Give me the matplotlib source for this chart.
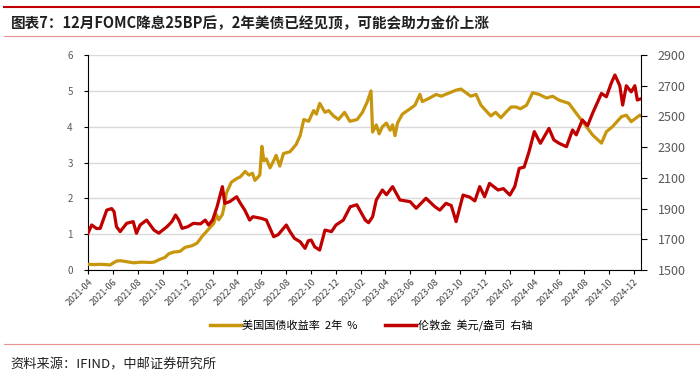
import matplotlib
matplotlib.use("Agg")
import matplotlib.pyplot as plt
import matplotlib.dates as mdates
from matplotlib.lines import Line2D
import pandas as pd

plt.rcParams['font.family'] = ['Noto Sans CJK SC', 'DejaVu Sans']

title = "图表7：12月FOMC降息25BP后，2年美债已经见顶，可能会助力金价上涨"
source = "资料来源：IFIND，中邮证券研究所"
label_yield = "美国国债收益率  2年  %"
label_gold = "伦敦金  美元/盎司  右轴"

yield_dates = [
    "2021-04-01", "2021-04-16", "2021-05-01", "2021-05-16", "2021-05-25", "2021-06-10", "2021-06-19",
    "2021-07-01", "2021-07-22", "2021-08-10", "2021-09-01", "2021-09-10", "2021-09-25", "2021-10-07",
    "2021-10-16", "2021-10-28", "2021-11-13", "2021-11-25", "2021-12-13", "2021-12-25", "2022-01-07",
    "2022-01-19", "2022-02-04", "2022-02-10", "2022-02-16", "2022-02-25", "2022-03-01", "2022-03-07",
    "2022-03-19", "2022-04-01", "2022-04-10", "2022-04-22", "2022-05-01", "2022-05-10", "2022-05-16",
    "2022-05-28", "2022-06-02", "2022-06-07", "2022-06-13", "2022-06-22", "2022-07-01", "2022-07-07",
    "2022-07-16", "2022-07-25", "2022-08-10", "2022-08-25", "2022-09-04", "2022-09-13", "2022-09-25",
    "2022-10-07", "2022-10-14", "2022-10-22", "2022-11-04", "2022-11-13", "2022-11-25", "2022-12-07",
    "2022-12-22", "2023-01-04", "2023-01-22", "2023-02-04", "2023-02-16", "2023-02-25", "2023-03-01",
    "2023-03-10", "2023-03-17", "2023-03-25", "2023-04-04", "2023-04-13", "2023-04-19", "2023-04-25",
    "2023-05-01", "2023-05-13", "2023-06-01", "2023-06-13", "2023-06-25", "2023-07-01", "2023-07-19",
    "2023-08-04", "2023-08-16", "2023-09-07", "2023-09-22", "2023-10-04", "2023-10-16", "2023-10-28",
    "2023-11-10", "2023-11-22", "2023-12-04", "2023-12-16", "2023-12-28", "2024-01-10", "2024-01-22",
    "2024-02-04", "2024-02-16", "2024-02-27", "2024-03-13", "2024-03-28", "2024-04-13", "2024-05-01",
    "2024-05-16", "2024-06-01", "2024-06-25", "2024-07-16", "2024-08-07", "2024-08-22", "2024-09-13",
    "2024-09-25", "2024-10-10", "2024-11-01", "2024-11-13", "2024-11-25", "2024-12-16", "2024-12-19",
]
yield_values = [
    0.16, 0.15, 0.16, 0.15, 0.14, 0.25, 0.26,
    0.24, 0.20, 0.22, 0.21, 0.22, 0.30, 0.35,
    0.45, 0.50, 0.52, 0.63, 0.68, 0.75, 0.95,
    1.10, 1.30, 1.55, 1.40, 1.55, 1.75, 2.15,
    2.45, 2.55, 2.60, 2.75, 2.65, 2.70, 2.50,
    2.65, 3.45, 3.05, 3.10, 2.85, 3.05, 3.20,
    2.90, 3.25, 3.30, 3.50, 3.75, 4.20, 4.15,
    4.45, 4.35, 4.65, 4.40, 4.45, 4.30, 4.20,
    4.40, 4.15, 4.20, 4.40, 4.70, 5.00, 3.85,
    4.05, 3.80, 4.00, 4.10, 3.90, 4.05, 3.75,
    4.10, 4.35, 4.50, 4.60, 4.90, 4.70, 4.80,
    4.90, 4.85, 4.95, 5.02, 5.05, 4.95, 4.85,
    4.90, 4.60, 4.45, 4.30, 4.40, 4.25, 4.40,
    4.55, 4.55, 4.50, 4.60, 4.95, 4.90, 4.80,
    4.85, 4.74, 4.65, 4.33, 4.00, 3.77, 3.54,
    3.86, 4.00, 4.28, 4.32, 4.14, 4.32, 4.30,
]

gold_dates = [
    "2021-04-01", "2021-04-10", "2021-04-22", "2021-05-01", "2021-05-17", "2021-05-29", "2021-06-04",
    "2021-06-10", "2021-06-19", "2021-07-05", "2021-07-21", "2021-07-29", "2021-08-07", "2021-08-23",
    "2021-09-10", "2021-09-22", "2021-10-12", "2021-10-24", "2021-11-02", "2021-11-10", "2021-11-18",
    "2021-12-02", "2021-12-16", "2022-01-02", "2022-01-14", "2022-01-22", "2022-02-01", "2022-02-12",
    "2022-02-25", "2022-03-03", "2022-03-15", "2022-04-01", "2022-04-09", "2022-04-21", "2022-05-03",
    "2022-05-11", "2022-06-01", "2022-06-13", "2022-06-22", "2022-07-01", "2022-07-12", "2022-08-01",
    "2022-08-10", "2022-08-21", "2022-09-04", "2022-09-16", "2022-09-24", "2022-10-01", "2022-10-10",
    "2022-10-22", "2022-11-04", "2022-11-20", "2022-12-01", "2022-12-19", "2023-01-05", "2023-01-21",
    "2023-02-11", "2023-02-19", "2023-03-01", "2023-03-10", "2023-03-25", "2023-04-04", "2023-04-19",
    "2023-05-07", "2023-06-01", "2023-06-16", "2023-07-10", "2023-08-01", "2023-08-13", "2023-08-28",
    "2023-09-10", "2023-09-22", "2023-10-09", "2023-10-25", "2023-11-07", "2023-11-19", "2023-12-01",
    "2023-12-13", "2024-01-03", "2024-01-16", "2024-02-01", "2024-02-13", "2024-02-24", "2024-03-07",
    "2024-03-19", "2024-04-01", "2024-04-16", "2024-05-07", "2024-05-19", "2024-06-01", "2024-06-19",
    "2024-07-04", "2024-07-13", "2024-07-28", "2024-08-10", "2024-08-22", "2024-09-13", "2024-09-25",
    "2024-10-07", "2024-10-16", "2024-10-28", "2024-11-04", "2024-11-13", "2024-11-25", "2024-12-04",
    "2024-12-10", "2024-12-19",
]
gold_values = [
    1739, 1793, 1770, 1771, 1890, 1900, 1880,
    1782, 1750, 1804, 1815, 1739, 1793, 1825,
    1760, 1740, 1782, 1815, 1858, 1825, 1771,
    1782, 1804, 1800, 1825, 1793, 1825, 1912,
    2043, 1934, 1945, 1977, 1940, 1890, 1825,
    1847, 1836, 1825, 1771, 1717, 1730, 1793,
    1750, 1706, 1684, 1641, 1690, 1695, 1650,
    1630, 1760, 1750, 1793, 1825, 1912, 1925,
    1825, 1808, 1847, 1956, 2021, 1990, 2043,
    1956, 1945, 1902, 1967, 1912, 1890, 1934,
    1920, 1815, 1988, 1975, 1950, 2043, 1977,
    2064, 2021, 2030, 1988, 2043, 2162, 2170,
    2270, 2401, 2325, 2422, 2347, 2325, 2303,
    2412, 2380, 2477, 2440, 2520, 2650, 2628,
    2717, 2770, 2700, 2574, 2700, 2660, 2700,
    2607, 2615,
]

x_start, x_end = "2021-04-01", "2024-12-19"
tick_dates = pd.date_range("2021-04-01", "2024-12-01", freq="2MS")
left_ticks = [0, 1, 2, 3, 4, 5, 6]
right_ticks = [1500, 1700, 1900, 2100, 2300, 2500, 2700, 2900]

c_yield = "#C8960C"
c_gold = "#C00000"
grey = "#595959"

fig = plt.figure(figsize=(7, 3.75), dpi=100)
ax = fig.add_axes([0.1257, 0.28, 0.79, 0.5733])
ax2 = ax.twinx()

ax.plot(pd.to_datetime(yield_dates), yield_values, color=c_yield, lw=2.3, zorder=3)
ax2.plot(pd.to_datetime(gold_dates), gold_values, color=c_gold, lw=2.3, zorder=3)

ax.set_xlim(pd.Timestamp(x_start), pd.Timestamp(x_end))
ax.set_ylim(0, 6)
ax2.set_ylim(1500, 2900)
ax.set_yticks(left_ticks)
ax2.set_yticks(right_ticks)
ax.set_xticks(tick_dates)
ax.set_xticklabels([d.strftime("%Y-%m") for d in tick_dates], rotation=45,
                   ha="right", rotation_mode="anchor", fontsize=6.5, color="#404040")
ax.tick_params(axis="x", length=3, pad=2, direction="out", color="black")
ax.tick_params(axis="y", length=3, labelsize=7, labelcolor=grey, pad=8)
ax2.tick_params(axis="y", length=4, labelsize=9, labelcolor=grey, pad=8, direction="out")
ax.yaxis.grid(True, color="#D9D9D9", lw=1.0)
ax.set_axisbelow(True)
for a in (ax, ax2):
    a.spines["top"].set_visible(False)
ax.spines["right"].set_visible(False)
ax2.spines["left"].set_visible(False)
ax2.spines["bottom"].set_visible(False)
ax.spines["left"].set_color("black")
ax.spines["bottom"].set_color("black")
ax2.spines["right"].set_color("black")
ax2.set_zorder(ax.get_zorder() + 1)
ax2.patch.set_visible(False)

# decorative lines
fig.add_artist(Line2D([0.005, 1.0], [0.982, 0.982], color="#C00000", lw=1.5))
fig.add_artist(Line2D([0.005, 1.0], [0.904, 0.904], color="#E89090", lw=0.8))
fig.add_artist(Line2D([0.005, 1.0], [0.083, 0.083], color="#E89090", lw=0.8))

fig.text(0.015, 0.939, title, fontsize=10.5, fontweight="semibold", va="center", ha="left", color="#202020")
fig.text(0.015, 0.027, source, fontsize=9.5, va="center", ha="left", color="#202020")

handles = [Line2D([], [], color=c_yield, lw=2.5), Line2D([], [], color=c_gold, lw=2.5)]
fig.legend(handles, [label_yield, label_gold], loc="center", bbox_to_anchor=(0.53, 0.133),
           ncol=2, frameon=False, fontsize=8, handlelength=2.8, handletextpad=0.1,
           columnspacing=2.5)

fig.savefig("out.png", dpi=100)
